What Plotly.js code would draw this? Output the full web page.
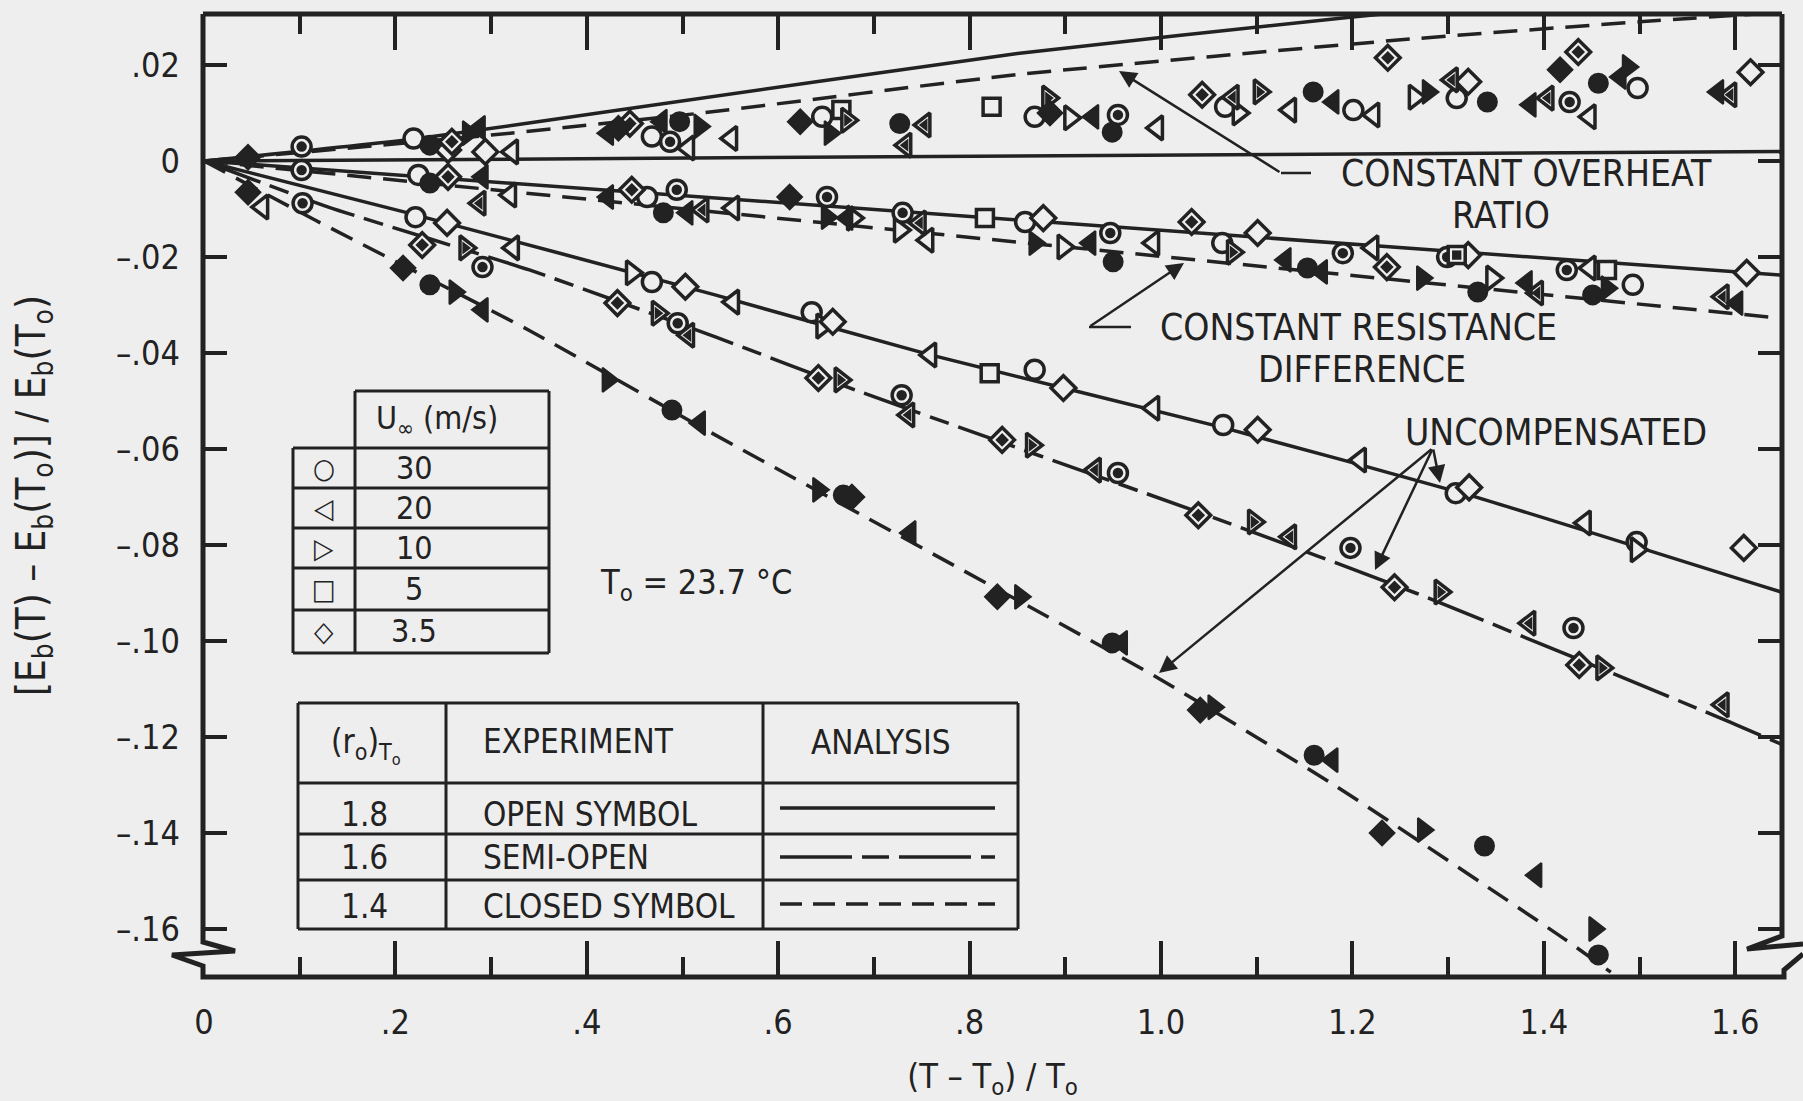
<!DOCTYPE html>
<html><head><meta charset="utf-8">
<script src="https://cdn.plot.ly/plotly-3.0.1.min.js"></script>
<style>html,body{margin:0;padding:0;background:#eeeeee;}</style>
</head><body><div id="chart" style="width:1803px;height:1101px;"></div>
<script>
// ---------------- DATA ----------------
// axis ticks
const xTickVals = [0, 0.2, 0.4, 0.6, 0.8, 1.0, 1.2, 1.4, 1.6];
const xTickText = ["0", ".2", ".4", ".6", ".8", "1.0", "1.2", "1.4", "1.6"];
const xMinorVals = [0.1, 0.3, 0.5, 0.7, 0.9, 1.1, 1.3, 1.5];
const yTickVals = [0.02, 0, -0.02, -0.04, -0.06, -0.08, -0.10, -0.12, -0.14, -0.16];
const yTickText = [".02", "0", "\u2013.02", "\u2013.04", "\u2013.06", "\u2013.08", "\u2013.10", "\u2013.12", "\u2013.14", "\u2013.16"];

// experiment, (r_o)T_o = 1.8 : open symbols  [x, y]
const openCircle = [[0.219,0.0047],[0.224,-0.0029],[0.221,-0.0117],[0.468,0.0051],[0.463,-0.0075],[0.468,-0.0252],[0.646,0.0092],[0.635,-0.0315],[0.868,0.0092],[0.858,-0.0127],[0.868,-0.0435],[1.067,0.0113],[1.064,-0.0171],[1.065,-0.0550],[1.201,0.0106],[1.309,0.0131],[1.308,-0.0692],[1.498,0.0152],[1.493,-0.0258],[1.497,-0.0794]];
const openTriLeft = [[0.061,-0.0096],[0.322,0.0019],[0.320,-0.0071],[0.323,-0.0181],[0.506,0.0027],[0.551,0.0047],[0.553,-0.0098],[0.553,-0.0294],[0.756,-0.0165],[0.759,-0.0404],[0.996,0.0069],[0.992,-0.0171],[0.992,-0.0515],[1.135,0.0106],[1.222,0.0096],[1.221,-0.0181],[1.208,-0.0623],[1.448,0.0092],[1.448,-0.0223],[1.443,-0.0754]];
const openTriRight = [[0.447,-0.0233],[0.646,-0.0344],[0.678,-0.0119],[0.727,-0.0144],[0.898,-0.0179],[0.905,0.0090],[1.081,0.0100],[1.265,0.0133],[1.346,-0.0244],[1.497,-0.0810]];
const openSquare = [[0.666,0.0106],[0.816,-0.0119],[0.821,-0.0442],[0.823,0.0113],[1.466,-0.0227]];
const openDiamond = [[0.255,0.0023],[0.294,0.0019],[0.254,-0.0129],[0.503,-0.0262],[0.657,-0.0335],[0.877,-0.0119],[0.898,-0.0473],[1.101,-0.0150],[1.101,-0.0560],[1.321,0.0165],[1.321,-0.0196],[1.322,-0.0680],[1.616,0.0185],[1.612,-0.0233],[1.609,-0.0806]];

// experiment, (r_o)T_o = 1.6 : semi-open symbols
const semiCircle = [[0.102,0.0030],[0.102,-0.0019],[0.103,-0.0088],[0.291,-0.0221],[0.487,0.0040],[0.494,-0.0060],[0.495,-0.0338],[0.651,-0.0075],[0.729,-0.0488],[0.730,-0.0108],[0.955,0.0096],[0.947,-0.0150],[0.955,-0.0650],[1.190,-0.0192],[1.198,-0.0806],[1.299,-0.0200],[1.427,0.0123],[1.424,-0.0227],[1.431,-0.0973]];
const semiTriLeft = [[0.288,-0.0088],[0.506,-0.0363],[0.521,-0.0102],[0.733,0.0033],[0.748,-0.0129],[0.753,0.0075],[0.736,-0.0529],[0.931,-0.0644],[1.075,0.0133],[1.135,-0.0783],[1.304,0.0169],[1.404,0.0131],[1.393,-0.0275],[1.385,-0.0963],[1.595,0.0138],[1.587,-0.0283],[1.587,-0.1133]];
const semiTriRight = [[0.273,-0.0181],[0.474,-0.0317],[0.665,-0.0456],[0.672,0.0085],[0.865,-0.0592],[0.882,0.0131],[1.075,-0.0190],[1.097,-0.0752],[1.103,0.0144],[1.292,-0.0898],[1.461,-0.1056]];
const semiSquare = [[1.309,-0.0196]];
const semiDiamond = [[0.228,-0.0175],[0.255,-0.0033],[0.259,0.0040],[0.432,-0.0296],[0.445,0.0078],[0.447,-0.0060],[0.642,-0.0452],[0.834,-0.0581],[1.032,-0.0127],[1.039,-0.0738],[1.043,0.0138],[1.236,-0.0221],[1.237,0.0215],[1.244,-0.0888],[1.436,0.0227],[1.437,-0.1050]];

// experiment, (r_o)T_o = 1.4 : closed symbols
const closedCircle = [[0.236,0.0033],[0.236,-0.0046],[0.236,-0.0258],[0.480,-0.0108],[0.489,-0.0519],[0.497,0.0082],[0.668,-0.0696],[0.727,0.0078],[0.949,0.0060],[0.950,-0.0210],[0.949,-0.1004],[1.153,-0.0223],[1.159,0.0144],[1.160,-0.1238],[1.331,-0.0273],[1.338,-0.1427],[1.341,0.0123],[1.451,-0.0279],[1.457,0.0162],[1.457,-0.1654]];
const closedTriLeft = [[0.288,0.0069],[0.291,-0.0033],[0.291,-0.0310],[0.422,0.0058],[0.422,-0.0075],[0.478,0.0082],[0.505,-0.0108],[0.518,-0.0546],[0.672,-0.0119],[0.738,-0.0775],[0.926,-0.0171],[0.929,0.0092],[0.959,-0.1004],[1.130,-0.0206],[1.168,-0.0231],[1.179,-0.1248],[1.180,0.0123],[1.382,-0.0254],[1.386,0.0117],[1.392,-0.1488],[1.480,0.0175],[1.582,0.0144],[1.602,-0.0296]];
const closedTriRight = [[0.262,-0.0273],[0.276,0.0058],[0.422,-0.0456],[0.518,0.0072],[0.642,-0.0685],[0.651,-0.0117],[0.654,0.0058],[0.853,-0.0908],[0.868,-0.0171],[1.055,-0.1138],[1.273,-0.0244],[1.274,-0.1394],[1.279,0.0144],[1.453,-0.1600],[1.466,-0.0265],[1.488,0.0196]];
const closedDiamond = [[0.046,0.0008],[0.046,-0.0065],[0.208,-0.0223],[0.433,0.0068],[0.612,-0.0075],[0.623,0.0082],[0.677,-0.0700],[0.829,-0.0908],[0.884,0.0100],[1.041,-0.1144],[1.231,-0.1400],[1.417,0.0190]];

// analysis curves [x, y]
const overheatSolid  = [[0,0],[0.22,0.0046],[0.43,0.0105],[0.85,0.0224],[1.19,0.0298],[1.45,0.0350]];
const overheatDashed = [[0,0],[0.30,0.0054],[0.52,0.0100],[0.85,0.0180],[1.26,0.0254],[1.50,0.0290],[1.65,0.0310]];
const overheatFlat   = [[0,0],[1.65,0.0020]];
const resistSolid    = [[0,0],[1.65,-0.0238]];
const resistDashed   = [[0,0],[1.65,-0.0328]];
const uncompSolid    = [[0,0],[0.213,-0.0108],[0.534,-0.0279],[0.759,-0.0404],[1.062,-0.0554],[1.322,-0.0696],[1.648,-0.0898]];
const uncompSemi     = [[0,0],[0.13,-0.0096],[0.34,-0.0227],[0.535,-0.0367],[0.686,-0.0481],[1.062,-0.0748],[1.266,-0.0900],[1.584,-0.1160],[1.648,-0.1215]];
const uncompDashed   = [[0,0],[0.116,-0.0123],[0.339,-0.0352],[0.519,-0.0554],[0.995,-0.1075],[1.184,-0.1304],[1.421,-0.1620],[1.47,-0.1690]];

// legend table labels
const speedSymbols = ["\u25CB", "\u25C1", "\u25B7", "\u25A1", "\u25C7"];
const speedLabels = ["30", "20", "10", "5", "3.5"];
const ratioLabels = ["1.8", "1.6", "1.4"];
const experimentLabels = ["OPEN SYMBOL", "SEMI-OPEN", "CLOSED SYMBOL"];

// ---------------- DRAWING ----------------
const ink = '#222222', bg = '#eeeeee';
const FONT = '"DejaVu Sans Condensed", "DejaVu Sans", sans-serif';
const L = 203, R = 1782, T = 14, B = 977;      // plot area in page pixels
const px = v => (v - L) / (R - L);               // pixel -> paper x
const py = v => (B - v) / (B - T);               // pixel -> paper y

function xs(a){ return a.map(p => p[0]); }
function ys(a){ return a.map(p => p[1]); }

const traces = [];
function addLine(a, dash, smooth){
  traces.push({type:'scatter', mode:'lines', x:xs(a), y:ys(a), hoverinfo:'skip', showlegend:false,
    line:{color:ink, width:3.5, dash:dash, shape: smooth ? 'spline' : 'linear', smoothing:0.5}});
}
addLine(overheatFlat, 'solid', false);
addLine(overheatSolid, 'solid', true);
addLine(overheatDashed, '24px,12px', true);
addLine(resistSolid, 'solid', false);
addLine(resistDashed, '24px,12px', false);
addLine(uncompSolid, 'solid', true);
addLine(uncompSemi, '60px,10px,20px,10px', true);
addLine(uncompDashed, '24px,12px', true);

const SIZE = {'circle':19, 'triangle-left':21, 'triangle-right':21, 'square':17, 'diamond':19};
function addMarkers(a, symbol, kind){
  const s = SIZE[symbol];
  if (kind === 'closed') {
    traces.push({type:'scatter', mode:'markers', x:xs(a), y:ys(a), hoverinfo:'skip', showlegend:false,
      marker:{symbol:symbol, size:s, color:ink, line:{color:ink, width:2}}});
  } else {
    traces.push({type:'scatter', mode:'markers', x:xs(a), y:ys(a), hoverinfo:'skip', showlegend:false,
      marker:{symbol:symbol, size:s, color:bg, line:{color:ink, width:3.5}}});
    if (kind === 'semi') {
      traces.push({type:'scatter', mode:'markers', x:xs(a), y:ys(a), hoverinfo:'skip', showlegend:false,
        marker:{symbol:symbol, size:s*0.55, color:ink, line:{width:0}}});
    }
  }
}
addMarkers(openCircle, 'circle', 'open');
addMarkers(openTriLeft, 'triangle-left', 'open');
addMarkers(openTriRight, 'triangle-right', 'open');
addMarkers(openSquare, 'square', 'open');
addMarkers(openDiamond, 'diamond', 'open');
addMarkers(semiCircle, 'circle', 'semi');
addMarkers(semiTriLeft, 'triangle-left', 'semi');
addMarkers(semiTriRight, 'triangle-right', 'semi');
addMarkers(semiSquare, 'square', 'semi');
addMarkers(semiDiamond, 'diamond', 'semi');
addMarkers(closedCircle, 'circle', 'closed');
addMarkers(closedTriLeft, 'triangle-left', 'closed');
addMarkers(closedTriRight, 'triangle-right', 'closed');
addMarkers(closedDiamond, 'diamond', 'closed');

// ---- shapes: frame with axis breaks, tables, analysis legend lines
const shapes = [];
function seg(x0,y0,x1,y1,w,dash){
  shapes.push({type:'line', xref:'paper', yref:'paper', x0:px(x0), y0:py(y0), x1:px(x1), y1:py(y1),
    line:{color:ink, width:w||3.5, dash:dash||'solid'}, layer:'above'});
}
function poly(pts,w){
  let d = pts.map((p,i)=> (i?'L':'M') + px(p[0]) + ',' + py(p[1])).join(' ');
  shapes.push({type:'path', xref:'paper', yref:'paper', path:d, line:{color:ink, width:w}, layer:'above'});
}
// frame
poly([[203,14],[1782,14]],5);
poly([[203,14],[203,942],[235,951],[172,955],[203,966],[203,977],[1784,977],[1784,970],[1803,954]],5);
poly([[1782,14],[1782,936],[1747,949],[1803,944]],5);

// table 1 (U_inf)
const t1 = 3;
seg(355,391,549,391,t1); seg(355,391,355,653,t1); seg(549,391,549,653,t1);
seg(293,448,549,448,t1); seg(293,448,293,653,t1); seg(293,653,549,653,t1);
[488,528,568,610].forEach(v=>seg(293,v,549,v,t1));
// table 2 (ratio)
seg(298,703,1018,703,t1); seg(298,929,1018,929,t1);
seg(298,703,298,929,t1); seg(446,703,446,929,t1); seg(763,703,763,929,t1); seg(1018,703,1018,929,t1);
[783,834,880].forEach(v=>seg(298,v,1018,v,t1));
// analysis legend lines
seg(780,808,995,808,3.5,'solid');
seg(780,857,995,857,3.5,'72px,10px,27px,10px');
seg(780,904,995,904,3.5,'22px,11px');
// arrow leader segments
seg(1281,173,1311,173,2.5);
seg(1089,327,1131,327,2.5);

// ---- annotations
const ann = [];
function txt(text,x,y,size,anchor){
  ann.push({xref:'paper', yref:'paper', x:px(x), y:py(y), text:text, showarrow:false,
    xanchor:anchor||'center', yanchor:'middle', font:{family:FONT, size:size, color:ink}});
}
function arrow(tx,ty,sx,sy){
  ann.push({xref:'paper', yref:'paper', x:px(tx), y:py(ty), ax:sx-tx, ay:sy-ty, text:'', showarrow:true,
    arrowhead:2, arrowsize:1.4, arrowwidth:2.5, arrowcolor:ink});
}
txt('CONSTANT OVERHEAT', 1526, 174, 37);
txt('RATIO', 1501, 215, 37);
txt('CONSTANT RESISTANCE', 1358, 327, 37);
txt('DIFFERENCE', 1362, 369, 37);
txt('UNCOMPENSATED', 1556, 432, 37);
arrow(1119,71,1281,173);
arrow(1184,263,1089,327);
arrow(1159,673,1433,448);
arrow(1375,570,1433,448);
arrow(1440,483,1433,448);
txt('T<sub>o</sub> = 23.7 \u00B0C', 696, 584, 34);
// table 1 text
txt('U<sub>\u221E</sub> (m/s)', 437, 420, 32);
const rowY1 = [468,508,548,589,631];
speedSymbols.forEach((s,i)=>txt(s, 324, rowY1[i], 28));
speedLabels.forEach((s,i)=>txt(s, 414, rowY1[i], 32));
// table 2 text
txt('(r<sub>o</sub>)<sub>T<sub>o</sub></sub>', 366, 745, 33);
txt('EXPERIMENT', 481, 741, 33, 'left');
txt('ANALYSIS', 881, 742, 33);
const rowY2 = [814,857,906];
ratioLabels.forEach((s,i)=>txt(s, 364, rowY2[i], 33));
experimentLabels.forEach((s,i)=>txt(s, 481, rowY2[i], 33, 'left'));

const layout = {
  width:1803, height:1101,
  margin:{l:L, r:1803-R, t:T, b:1101-B, pad:0},
  paper_bgcolor:bg, plot_bgcolor:bg,
  showlegend:false,
  font:{family:FONT, color:ink, size:33},
  xaxis:{
    range:[(L-204)/957, (R-204)/957],
    tickmode:'array', tickvals:xTickVals, ticktext:xTickText,
    ticks:'inside', ticklen:36, tickwidth:4, tickcolor:ink, mirror:'ticks',
    minor:{tickmode:'array', tickvals:xMinorVals, ticks:'inside', ticklen:20, tickwidth:4, tickcolor:ink},
    showline:false, showgrid:false, zeroline:false,
    ticklabelstandoff:22,
    tickfont:{family:FONT, size:34, color:ink},
    title:{text:'(T \u2013 T<sub>o</sub>) / T<sub>o</sub>', font:{family:FONT, size:34, color:ink}, standoff:26},
    automargin:false
  },
  yaxis:{
    range:[-0.17, 0.030625],
    tickmode:'array', tickvals:yTickVals, ticktext:yTickText,
    ticks:'inside', ticklen:24, tickwidth:4, tickcolor:ink, mirror:'ticks',
    showline:false, showgrid:false, zeroline:false,
    ticklabelstandoff:22,
    tickfont:{family:FONT, size:34, color:ink},
    title:{text:'[E<sub>b</sub>(T) \u2013 E<sub>b</sub>(T<sub>o</sub>)] / E<sub>b</sub>(T<sub>o</sub>)', font:{family:FONT, size:40, color:ink}, standoff:58},
    automargin:false
  },
  shapes:shapes,
  annotations:ann
};

Plotly.newPlot('chart', traces, layout, {displayModeBar:false, staticPlot:true});
</script>
</body></html>
